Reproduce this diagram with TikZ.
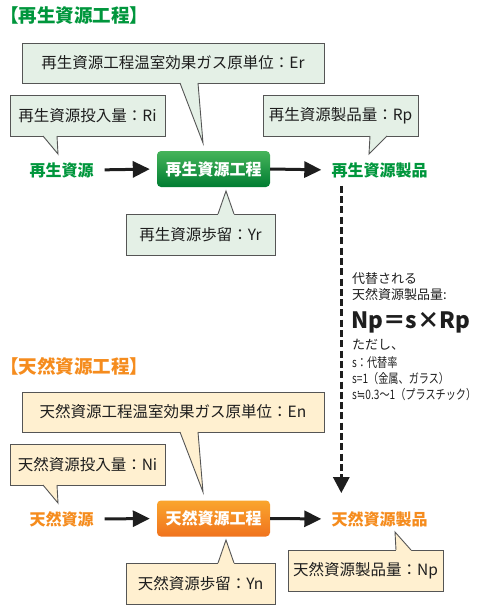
\documentclass[tikz,border=0pt]{standalone}
\usepackage{fontspec}
\setmainfont{Noto Sans CJK JP}
\newfontfamily\symb{DejaVu Sans}
\usetikzlibrary{positioning,arrows.meta,calc}

\definecolor{vert}{RGB}{0,150,60}
\definecolor{vertHaut}{RGB}{70,180,90}
\definecolor{vertBas}{RGB}{0,125,50}
\definecolor{orangeN}{RGB}{245,140,30}
\definecolor{orangeHaut}{RGB}{250,165,45}
\definecolor{orangeBas}{RGB}{240,115,30}
\definecolor{fondR}{RGB}{228,240,230}
\definecolor{fondN}{RGB}{255,240,208}
\definecolor{bord}{RGB}{85,85,85}
\definecolor{noir}{RGB}{30,30,30}

% pointe d'une bulle : fond, coin, debut, fin, pointe, sens
\newcommand{\pointe}[6]{%
  \fill[#1] ([xshift=#3pt,yshift=#6pt]#2) -- ([xshift=#3pt]#2) -- (#5)
    -- ([xshift=#4pt]#2) -- ([xshift=#4pt,yshift=#6pt]#2) -- cycle;
  \draw[bord,line width=.9pt] ([xshift=#3pt]#2) -- (#5) -- ([xshift=#4pt]#2);}
\newcommand{\serre}[1]{\scalebox{0.78}[1]{#1}}

\begin{document}
\begin{tikzpicture}[x=1pt,y=-1pt,
    bulle/.style={draw=bord,line width=.9pt,inner sep=0pt,outer sep=0pt,
      minimum height=41pt,text=noir,font=\fontsize{15.5}{18}\selectfont},
    etiq/.style={inner sep=0pt,font=\fontsize{16}{18}\selectfont\bfseries},
    procede/.style={rounded corners=4pt,minimum width=113pt,minimum height=36pt,
      inner sep=0pt,text=white,font=\fontsize{16}{18}\selectfont\bfseries},
    titre/.style={anchor=west,inner sep=0pt,font=\fontsize{18.5}{20}\selectfont\bfseries},
    note/.style={anchor=west,inner sep=0pt,text=noir,font=\fontsize{13}{15}\selectfont},
    fleche/.style={-{Triangle[length=17pt,width=16pt]},line width=3pt,noir}]
  \useasboundingbox (0,0) rectangle (477,610);

  % Procede recycle
  \node[titre,text=vert] (titreR) at (0,16) {【再生資源工程】};
  \node[bulle,fill=fondR,minimum width=302pt,minimum height=40pt] (er) at (173,63)
    {再生資源工程温室効果ガス原単位：Er};
  \node[bulle,fill=fondR,minimum width=155pt] (ri) at (87.5,115.5) {再生資源投入量：Ri};
  \node[bulle,fill=fondR,minimum width=155pt] (rp) at (340.5,115.5) {再生資源製品量：Rp};
  \node[bulle,fill=fondR,minimum width=149pt] (yr) at (200.5,234.5) {再生資源歩留：Yr};
  \pointe{fondR}{er.south west}{158}{176}{203,143}{1}
  \pointe{fondR}{ri.south west}{33}{47}{58,154}{1}
  \pointe{fondR}{rp.south west}{107}{124}{369,154}{1}
  \pointe{fondR}{yr.north west}{92}{108}{226,191}{-1}

  \node[etiq,text=vert] (rsrc) at (61.5,170) {再生資源};
  \node[procede,top color=vertHaut,bottom color=vertBas] (rproc) at (213.5,169) {再生資源工程};
  \node[etiq,text=vert] (rprod) at (379.5,170) {再生資源製品};
  \draw[fleche,shorten <=11pt,shorten >=7pt] (rsrc.east) -- (rproc.west);
  \draw[fleche,shorten >=10pt] (rproc.east) -- (rprod.west);

  % Procede naturel
  \node[titre,text=orangeN] (titreN) at (0,366) {【天然資源工程】};
  \node[bulle,fill=fondN,minimum width=302pt,minimum height=40pt] (en) at (173,412)
    {天然資源工程温室効果ガス原単位：En};
  \node[bulle,fill=fondN,minimum width=155pt] (ni) at (87.5,464.5) {天然資源投入量：Ni};
  \node[bulle,fill=fondN,minimum width=149pt] (yn) at (200.5,583.5) {天然資源歩留：Yn};
  \node[bulle,fill=fondN,minimum width=155pt] (np) at (365.5,570.5) {天然資源製品量：Np};
  \pointe{fondN}{en.south west}{158}{176}{203,492}{1}
  \pointe{fondN}{ni.south west}{33}{47}{58,503}{1}
  \pointe{fondN}{yn.north west}{92}{108}{226,540}{-1}
  \pointe{fondN}{np.north west}{108}{123}{395,532}{-1}

  \node[etiq,text=orangeN] (nsrc) at (61.5,519) {天然資源};
  \node[procede,top color=orangeHaut,bottom color=orangeBas] (nproc) at (213.5,518.5) {天然資源工程};
  \node[etiq,text=orangeN] (nprod) at (379.5,519) {天然資源製品};
  \draw[fleche,shorten <=11pt,shorten >=7pt] (nsrc.east) -- (nproc.west);
  \draw[fleche,shorten >=10pt] (nproc.east) -- (nprod.west);

  % Substitution
  \draw[-{Triangle[length=16pt,width=16pt]},line width=3pt,noir,
    dash pattern=on 7pt off 3.3pt,shorten <=8pt,shorten >=18pt]
    ([xshift=10pt]rprod.south west) -- ([xshift=10pt]nprod.north west);
  \node[note] (t1) at (352,279) {代替される};
  \node[note] (t2) at (352,295) {天然資源製品量:};
  \node[note,font=\fontsize{22.5}{24}\selectfont\bfseries] (t3) at (351,322) {Np＝s×Rp};
  \node[note] (t4) at (352,345) {ただし、};
  \node[note] (t5) at (352,363) {\serre{s：代替率}};
  \node[note] (t6) at (352,379) {\serre{s=1（金属、ガラス）}};
  \node[note] (t7) at (352,395) {\serre{s{\symb ≒}0.3〜1（プラスチック）}};
\end{tikzpicture}
\end{document}
